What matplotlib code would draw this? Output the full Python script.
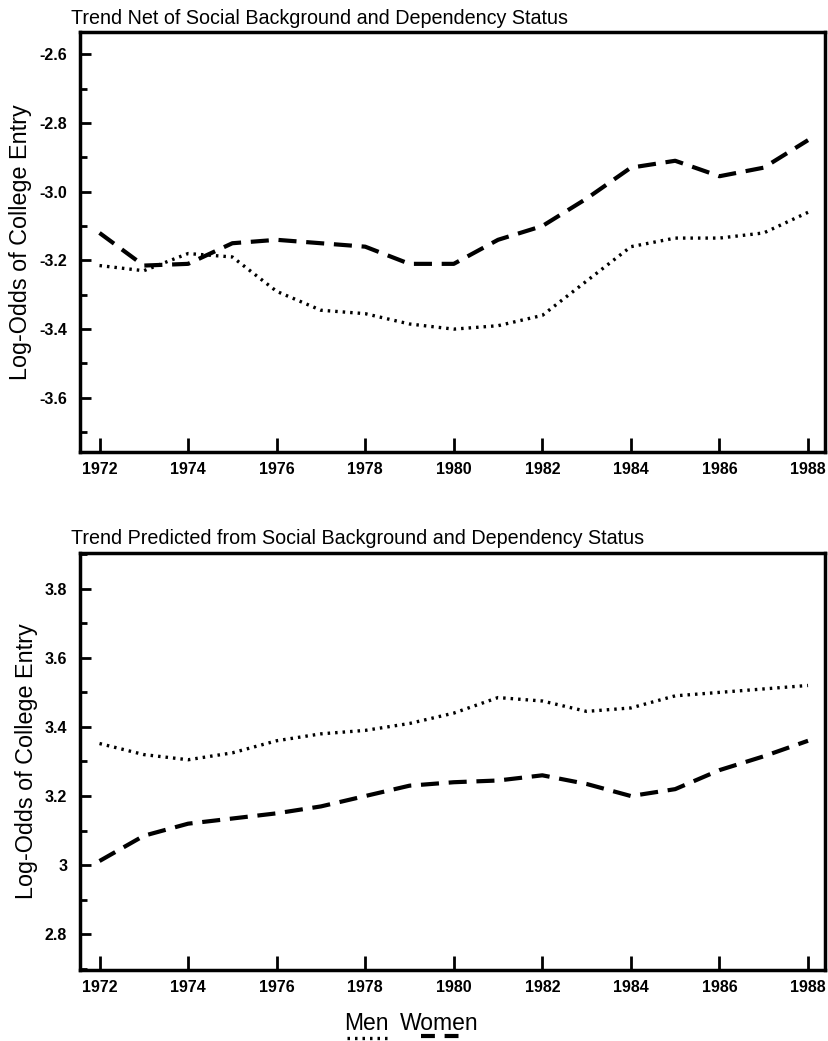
import matplotlib
matplotlib.use("Agg")
import matplotlib.pyplot as plt
from matplotlib.lines import Line2D
from matplotlib.ticker import MultipleLocator, FixedLocator

plt.rcParams['font.family'] = ['Liberation Sans', 'DejaVu Sans']
plt.rcParams['lines.scale_dashes'] = False

years = list(range(1972, 1989))

# net trend (log-odds), by sex
net_men = [-3.215, -3.23, -3.18, -3.19, -3.29, -3.345, -3.355, -3.385, -3.40,
           -3.39, -3.36, -3.26, -3.16, -3.135, -3.135, -3.12, -3.06]
net_women = [-3.12, -3.215, -3.21, -3.15, -3.14, -3.15, -3.16, -3.21, -3.21,
             -3.14, -3.10, -3.02, -2.93, -2.91, -2.955, -2.93, -2.85]

# predicted trend (log-odds), by sex
pred_men = [3.352, 3.32, 3.305, 3.325, 3.36, 3.38, 3.39, 3.41, 3.44,
            3.485, 3.475, 3.445, 3.455, 3.49, 3.50, 3.51, 3.52]
pred_women = [3.012, 3.085, 3.12, 3.135, 3.15, 3.17, 3.20, 3.23, 3.24,
              3.245, 3.26, 3.235, 3.20, 3.22, 3.275, 3.315, 3.36]

year_ticks = list(range(1972, 1989, 2))
net_ticks = [-2.6, -2.8, -3.0, -3.2, -3.4, -3.6]
net_labels = ['-2.6', '-2.8', '-3.0', '-3.2', '-3.4', '-3.6']
pred_ticks = [3.8, 3.6, 3.4, 3.2, 3.0, 2.8]
pred_labels = ['3.8', '3.6', '3.4', '3.2', '3', '2.8']

DASH = (13, 7)
DOT = (1.8, 3.6)

fig = plt.figure(figsize=(8.29, 10.41), dpi=100)
ax1 = fig.add_axes([0.096, 0.566, 0.899, 0.403])
ax2 = fig.add_axes([0.096, 0.068, 0.899, 0.401])

tick_font = {'weight': 'bold', 'size': 11.5}


def style_axes(ax, ylim, ticks, labels, title):
    ax.set_xlim(1971.55, 1988.38)
    ax.set_ylim(*ylim)
    ax.xaxis.set_major_locator(FixedLocator(year_ticks))
    ax.set_xticklabels([str(y) for y in year_ticks], fontdict=tick_font)
    ax.yaxis.set_major_locator(FixedLocator(ticks))
    ax.set_yticklabels(labels, fontdict=tick_font)
    ax.yaxis.set_minor_locator(MultipleLocator(0.1))
    ax.tick_params(axis='y', which='major', direction='in', length=8, width=2, pad=9)
    ax.tick_params(axis='y', which='minor', direction='in', length=5, width=2)
    ax.tick_params(axis='x', which='major', direction='in', length=10, width=2, pad=7)
    for sp in ax.spines.values():
        sp.set_linewidth(2.5)
    ax.set_ylabel('Log-Odds of College Entry', fontsize=16.8, labelpad=5)
    ax.set_title(title, fontsize=14.2, loc='left', x=-0.012, pad=6)


ax1.plot(years, net_men, color='black', lw=2.4, dashes=DOT)
ax1.plot(years, net_women, color='black', lw=3.0, dashes=DASH)
style_axes(ax1, (-3.757, -2.536), net_ticks, net_labels,
           'Trend Net of Social Background and Dependency Status')

ax2.plot(years, pred_men, color='black', lw=2.4, dashes=DOT)
ax2.plot(years, pred_women, color='black', lw=3.0, dashes=DASH)
style_axes(ax2, (2.696, 3.904), pred_ticks, pred_labels,
           'Trend Predicted from Social Background and Dependency Status')

# legend: labels with line samples underneath
fig.text(0.415, 0.017, 'Men', fontsize=16.5, ha='left', va='center')
fig.text(0.482, 0.017, 'Women', fontsize=16.5, ha='left', va='center')
fig.add_artist(Line2D([0.418, 0.470], [0.003, 0.003], transform=fig.transFigure,
                      color='black', lw=2.4, dashes=DOT))
fig.add_artist(Line2D([0.508, 0.565], [0.005, 0.005], transform=fig.transFigure,
                      color='black', lw=3.0, dashes=(10, 7)))

fig.savefig('out.png', dpi=100)
